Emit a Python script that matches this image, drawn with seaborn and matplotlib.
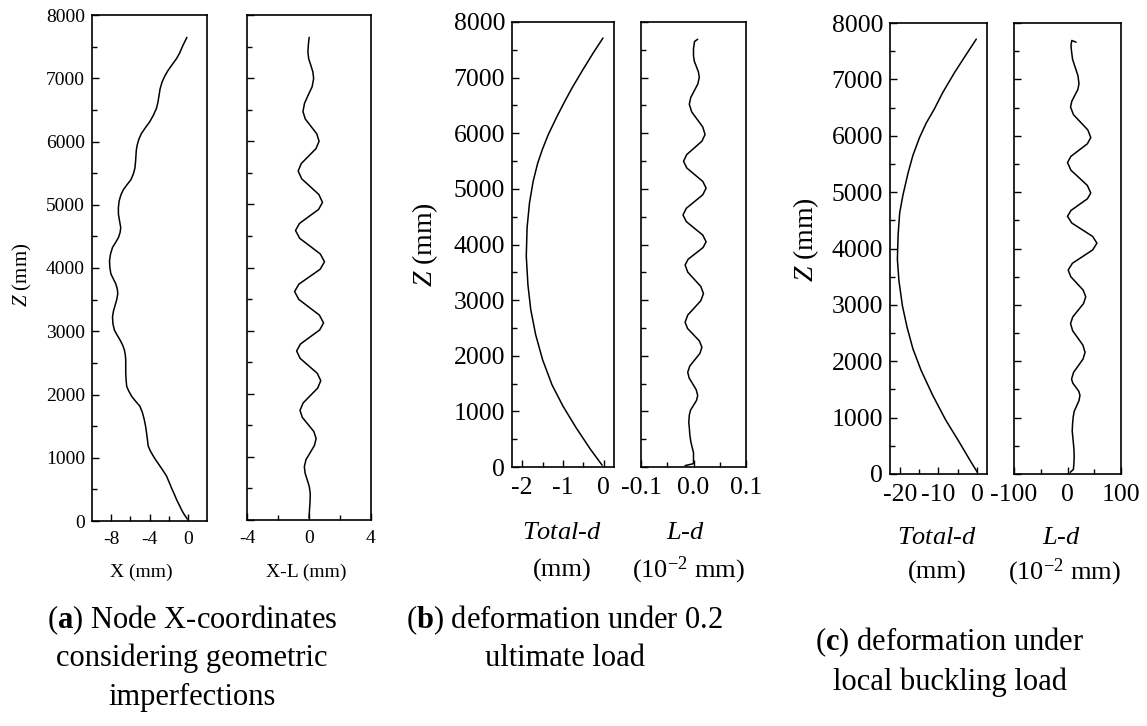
import matplotlib
matplotlib.use("Agg")
import matplotlib.pyplot as plt
import seaborn as sns
import pandas as pd
from matplotlib.ticker import FixedLocator, FixedFormatter, MultipleLocator

# ---------------- data ----------------
# (a) node X-coordinates with geometric imperfections
a1_z = [7646, 7516, 7400, 7306, 7210, 7123, 7030, 6940, 6830, 6731, 6620, 6522, 6420,
        6313, 6220, 6130, 6040, 5947, 5870, 5790, 5690, 5580, 5490, 5398, 5320,
        5240, 5150, 5057, 4950, 4848, 4740, 4639, 4560, 4482, 4400, 4325, 4220,
        4116, 4010, 3907, 3830, 3750, 3670, 3593, 3500, 3410, 3320, 3227, 3120,
        3018, 2940, 2861, 2780, 2704, 2620, 2547, 2440, 2338, 2230, 2128, 2050,
        1971, 1890, 1814, 1710, 1605, 1500, 1396, 1290, 1187, 1110, 1030, 950,
        873, 795, 716, 610, 507, 420, 330, 245, 160, 90, 30]
a1_x = [-0.1, -0.52, -0.85, -1.2, -1.66, -2.07, -2.42, -2.69, -2.9, -3.0, -3.12, -3.28, -3.58,
        -3.97, -4.42, -4.83, -5.1, -5.28, -5.37, -5.41, -5.45, -5.52, -5.68, -5.93, -6.33,
        -6.72, -7.0, -7.17, -7.25, -7.24, -7.12, -7.0, -7.07, -7.24, -7.55, -7.86, -8.07,
        -8.17, -8.14, -8.03, -7.78, -7.52, -7.36, -7.31, -7.42, -7.59, -7.76, -7.86, -7.82,
        -7.66, -7.38, -7.07, -6.8, -6.62, -6.52, -6.48, -6.48, -6.48, -6.44, -6.38, -6.15,
        -5.86, -5.43, -5.0, -4.73, -4.55, -4.41, -4.31, -4.22, -4.14, -3.92, -3.62, -3.28,
        -2.93, -2.58, -2.24, -1.94, -1.66, -1.4, -1.15, -0.87, -0.6, -0.32, -0.05]

a2_z = [7646, 7530, 7411, 7307, 7202, 7098, 6993, 6862, 6732, 6601, 6470, 6353, 6235,
        6118, 6000, 5882, 5764, 5646, 5528, 5404, 5280, 5155, 5031, 4920, 4809,
        4697, 4586, 4462, 4338, 4214, 4090, 3972, 3855, 3737, 3619, 3495, 3371,
        3246, 3122, 3011, 2900, 2788, 2677, 2560, 2442, 2325, 2207, 2089, 1972,
        1854, 1736, 1625, 1514, 1402, 1291, 1180, 1069, 958, 847, 740, 634,
        527, 420, 300, 150, 30]
a2_x = [0.01, -0.04, -0.07, -0.02, 0.12, 0.25, 0.30, 0.2, -0.05, -0.29, -0.39, -0.24, 0.13,
        0.5, 0.65, 0.45, -0.03, -0.5, -0.7, -0.47, 0.09, 0.64, 0.87, 0.62, 0.0,
        -0.62, -0.87, -0.6, 0.07, 0.73, 1.0, 0.72, 0.04, -0.65, -0.93, -0.66, 0.0,
        0.67, 0.94, 0.69, 0.07, -0.55, -0.8, -0.57, -0.02, 0.53, 0.76, 0.56, 0.09,
        -0.38, -0.58, -0.43, -0.06, 0.31, 0.46, 0.35, 0.08, -0.19, -0.3, -0.25, -0.11,
        0.02, 0.08, 0.07, 0.03, 0.0]

# (b) deformation under 0.2 ultimate load
b1_z = [7712, 7455, 7134, 6812, 6555, 6298, 5977, 5720, 5463, 5141, 4756, 4306,
        3792, 3278, 2828, 2378, 1928, 1478, 1093, 707, 321, 32]
b1_x = [-0.02, -0.25, -0.52, -0.78, -0.97, -1.15, -1.36, -1.5, -1.62, -1.73, -1.82, -1.88,
        -1.9, -1.86, -1.79, -1.67, -1.5, -1.27, -1.0, -0.68, -0.33, -0.04]

b2_z = [7690, 7650, 7520, 7391, 7295, 7198, 7102, 7005, 6885, 6764, 6644, 6523, 6387,
        6250, 6114, 5977, 5857, 5736, 5616, 5495, 5375, 5254, 5134, 5013, 4893,
        4772, 4652, 4531, 4411, 4290, 4170, 4049, 3945, 3840, 3736, 3631, 3503,
        3374, 3246, 3117, 2989, 2860, 2732, 2603, 2490, 2378, 2265, 2153, 2040,
        1928, 1815, 1703, 1598, 1494, 1389, 1285, 1197, 1108, 1020, 932, 800,
        707, 580, 450, 257, 100, 60, 25]
b2_x = [0.008, 0.002, 0.0, 0.0, 0.0016, 0.0055, 0.0094, 0.011, 0.0082, 0.0015, -0.0052, -0.008, -0.0036,
        0.007, 0.0176, 0.022, 0.016, 0.0015, -0.013, -0.019, -0.0127, 0.0025, 0.0177, 0.024, 0.0176,
        0.002, -0.0136, -0.02, -0.0136, 0.002, 0.0176, 0.024, 0.0182, 0.004, -0.0102, -0.016, -0.0109,
        0.0015, 0.0139, 0.019, 0.0139, 0.0015, -0.0109, -0.016, -0.0113, 0.0, 0.0113, 0.016, 0.0121,
        0.0025, -0.0071, -0.011, -0.0082, -0.0015, 0.0052, 0.008, 0.0057, 0.0, -0.0057, -0.008, -0.009,
        -0.008, -0.007, -0.005, 0.0, 0.0, 0.0, -0.016]

# (c) deformation under local buckling load
c1_z = [7714, 7429, 7111, 6762, 6476, 6222, 5968, 5651, 5333, 4952, 4635, 4254,
        3810, 3429, 2984, 2603, 2222, 1841, 1397, 952, 571, 222, 32]
c1_x = [-0.26, -2.98, -5.96, -8.94, -11.06, -13.19, -14.89, -16.6, -17.87, -19.15, -20.0, -20.4,
        -20.6, -20.2, -19.3, -18.1, -16.6, -14.5, -11.5, -8.1, -4.7, -1.7, 0.0]

c2_z = [7660, 7690, 7600, 7500, 7355, 7210, 7066, 6921, 6818, 6715, 6611, 6508, 6373,
        6238, 6103, 5968, 5857, 5746, 5635, 5524, 5389, 5254, 5119, 4984, 4881,
        4778, 4674, 4571, 4452, 4333, 4214, 4095, 3976, 3857, 3738, 3619, 3500,
        3381, 3262, 3143, 3024, 2905, 2786, 2667, 2540, 2413, 2286, 2159, 2040,
        1921, 1802, 1683, 1612, 1540, 1469, 1397, 1302, 1206, 1111, 1016, 890,
        762, 600, 444, 300, 190, 80, 30]
c2_x = [16.0, 8.0, 6.5, 7.5, 9.5, 14.5, 19.5, 21.5, 19.2, 13.6, 8.0, 5.7, 11.2,
        24.6, 38.0, 43.5, 37.1, 21.8, 6.4, 0.0, 6.4, 21.8, 37.1, 43.5, 37.1,
        21.8, 6.4, 0.0, 8.0, 27.5, 47.0, 55.0, 47.2, 28.2, 9.2, 1.3, 6.1,
        17.7, 29.3, 34.1, 30.0, 19.9, 9.8, 5.7, 9.7, 19.3, 28.8, 32.8, 29.1,
        20.2, 11.3, 7.6, 9.9, 15.5, 21.0, 23.3, 21.5, 17.0, 12.5, 10.7, 9.5,
        8.8, 10.5, 12.0, 12.5, 12.0, 11.0, 5.0]

# tick definitions
a1_xt, a1_xtl, a1_xm = [-8, -4, 0], ["-8", "-4", "0"], [-6, -2]
a2_xt, a2_xtl, a2_xm = [-4, 0, 4], ["-4", "0", "4"], [-2, 2]
b1_xt, b1_xtl, b1_xm = [-2, -1, 0], ["-2", "-1", "0"], [-1.5, -0.5]
b2_xt, b2_xtl, b2_xm = [-0.1, 0.0, 0.1], ["-0.1", "0.0", "0.1"], [-0.05, 0.05]
c1_xt, c1_xtl, c1_xm = [-20, -10, 0], ["-20", "-10", "0"], [-15, -5]
c2_xt, c2_xtl, c2_xm = [-100, 0, 100], ["-100", "0", "100"], [-50, 50]
z_ticks = [0, 1000, 2000, 3000, 4000, 5000, 6000, 7000, 8000]

# ---------------- style ----------------
sns.set_style("ticks")
plt.rcParams["font.family"] = ["Liberation Serif", "DejaVu Serif"]
plt.rcParams["mathtext.fontset"] = "custom"
plt.rcParams["mathtext.rm"] = "Liberation Serif"
plt.rcParams["mathtext.it"] = "Liberation Serif:italic"
plt.rcParams["mathtext.bf"] = "Liberation Serif:bold"
plt.rcParams["axes.unicode_minus"] = False
for k in ["text.color", "axes.labelcolor", "xtick.color", "ytick.color", "axes.edgecolor"]:
    plt.rcParams[k] = "black"

W, H = 1147, 726
fig = plt.figure(figsize=(W / 100, H / 100), dpi=100)
fig.patch.set_facecolor("white")


def box(l, r, t, b):
    return fig.add_axes([l / W, 1 - b / H, (r - l) / W, (b - t) / H])


def panel(ax, x, z, xlim, xt, xtl, xm, fs, ylab):
    df = pd.DataFrame({"x": x, "z": z})
    sns.lineplot(data=df, x="x", y="z", sort=False, estimator=None,
                 color="black", lw=1.1, ax=ax)
    ax.set_xlim(*xlim)
    ax.set_ylim(0, 8000)
    ax.set_xlabel("")
    ax.set_ylabel("")
    ax.xaxis.set_major_locator(FixedLocator(xt))
    ax.xaxis.set_major_formatter(FixedFormatter(xtl))
    ax.xaxis.set_minor_locator(FixedLocator(xm))
    ax.yaxis.set_major_locator(FixedLocator(z_ticks))
    ax.yaxis.set_minor_locator(MultipleLocator(500))
    ax.tick_params(which="both", direction="in", top=False, right=False,
                   width=1.0, colors="black", labelsize=fs)
    ax.tick_params(which="major", length=5)
    ax.tick_params(which="minor", length=3.5)
    ax.tick_params(axis="x", pad=7)
    ax.tick_params(axis="y", pad=5)
    if not ylab:
        ax.tick_params(axis="y", labelleft=False)
    for s in ax.spines.values():
        s.set_visible(True)
        s.set_linewidth(1.2)
        s.set_color("black")
    ax.set_facecolor("white")


# panel (a)
ax_a1 = box(92, 207, 15, 521)
ax_a2 = box(247, 371, 15, 520)
panel(ax_a1, a1_x, a1_z, (-10, 2), a1_xt, a1_xtl, a1_xm, 14, True)
panel(ax_a2, a2_x, a2_z, (-4, 4), a2_xt, a2_xtl, a2_xm, 14, False)

# panel (b)
ax_b1 = box(512, 614, 22, 467)
ax_b2 = box(641, 746, 22, 467)
panel(ax_b1, b1_x, b1_z, (-2.25, 0.25), b1_xt, b1_xtl, b1_xm, 18.5, True)
panel(ax_b2, b2_x, b2_z, (-0.1, 0.1), b2_xt, b2_xtl, b2_xm, 18.5, False)

# panel (c)
ax_c1 = box(890, 987, 23, 474)
ax_c2 = box(1014, 1121, 23, 474)
panel(ax_c1, c1_x, c1_z, (-22.5, 2.5), c1_xt, c1_xtl, c1_xm, 18.5, True)
panel(ax_c2, c2_x, c2_z, (-100, 100), c2_xt, c2_xtl, c2_xm, 18.5, False)


# y labels
def ylab(ax, text, xpix, ypix, fs):
    pos = ax.get_position()
    l = pos.x0 * W
    w = pos.width * W
    b = (1 - pos.y0) * H
    h = pos.height * H
    ax.set_ylabel(text, fontsize=fs, va="center")
    ax.yaxis.set_label_coords((xpix - l) / w, (b - ypix) / h)


ylab(ax_a1, r"$\mathit{Z}$ (mm)", 22, 275, 15)
ylab(ax_b1, r"$\mathit{Z}$ (mm)", 425, 245, 20)
ylab(ax_c1, r"$\mathit{Z}$ (mm)", 806, 240, 20)


# x labels (below axes)
def below(ax, text, dy_pix, fs, dx_pix=0):
    ax.annotate(text, xy=(0.5, 0), xycoords="axes fraction",
                xytext=(dx_pix * 0.72, -dy_pix * 0.72), textcoords="offset points",
                ha="center", va="center", fontsize=fs)


below(ax_a1, "X (mm)", 51, 14, -8)
below(ax_a2, "X-L (mm)", 52, 14, -3)
below(ax_b1, r"$\mathit{Total}$-$\mathit{d}$", 66, 19, -1)
below(ax_b1, "(mm)", 103, 19, -1)
below(ax_b2, r"$\mathit{L}$-$\mathit{d}$", 66, 19, -8)
below(ax_b2, r"(10$^{-2}$ mm)", 103, 19, -5)
below(ax_c1, r"$\mathit{Total}$-$\mathit{d}$", 64, 19, -2)
below(ax_c1, "(mm)", 98, 19, -1)
below(ax_c2, r"$\mathit{L}$-$\mathit{d}$", 64, 19, -6)
below(ax_c2, r"(10$^{-2}$ mm)", 98, 19, -3)

# captions
cap_fs = 22
fig.text(192 / W, 1 - 620 / H, r"($\mathbf{a}$) Node X-coordinates", ha="center", va="center", fontsize=cap_fs)
fig.text(192 / W, 1 - 658 / H, "considering geometric", ha="center", va="center", fontsize=cap_fs)
fig.text(192 / W, 1 - 697 / H, "imperfections", ha="center", va="center", fontsize=cap_fs)
fig.text(565 / W, 1 - 620 / H, r"($\mathbf{b}$) deformation under 0.2", ha="center", va="center", fontsize=cap_fs)
fig.text(565 / W, 1 - 658 / H, "ultimate load", ha="center", va="center", fontsize=cap_fs)
fig.text(950 / W, 1 - 642 / H, r"($\mathbf{c}$) deformation under", ha="center", va="center", fontsize=cap_fs)
fig.text(950 / W, 1 - 682 / H, "local buckling load", ha="center", va="center", fontsize=cap_fs)

fig.savefig("out.png", dpi=100, facecolor="white")
